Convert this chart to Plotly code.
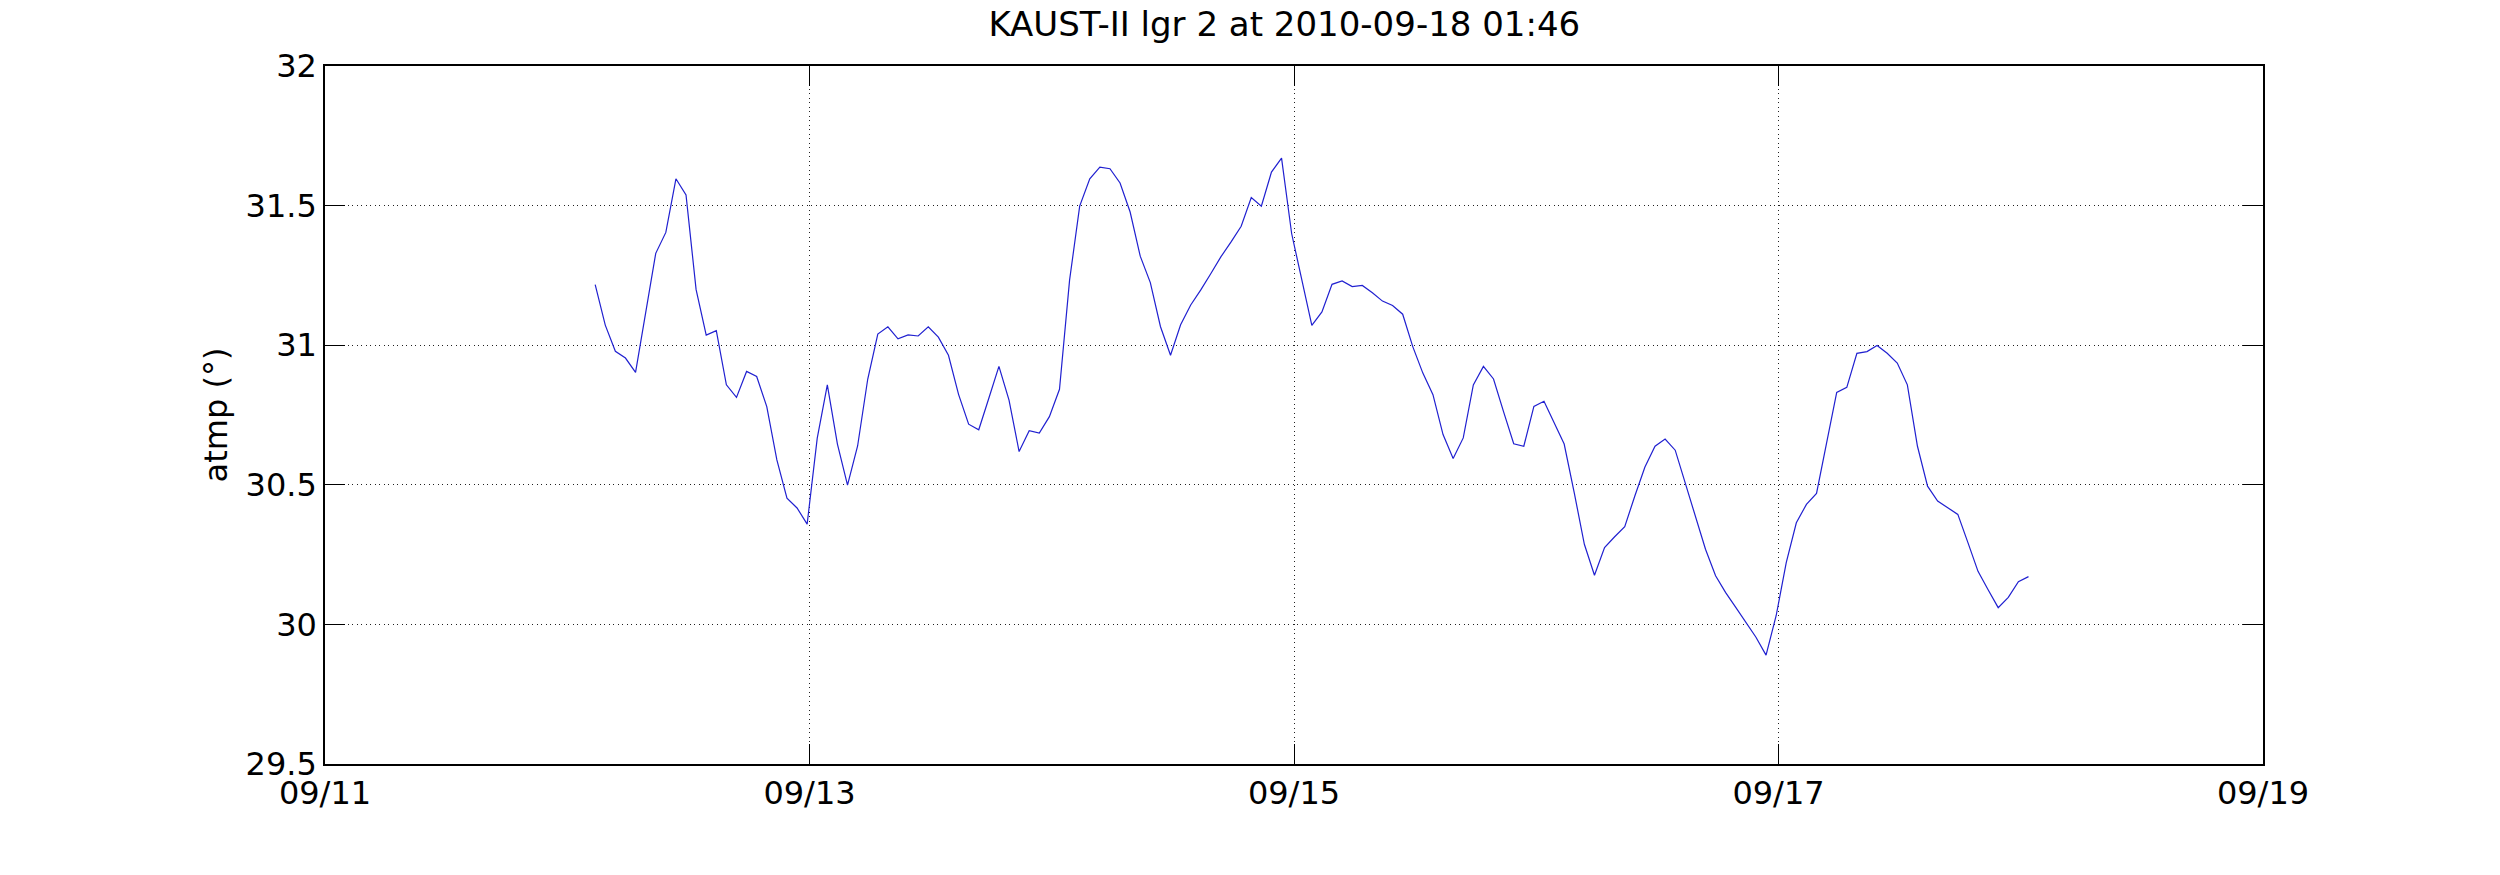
import pandas as pd
import plotly.graph_objects as go

# Hourly air temperature, 2010-09-12 02:46 .. 2010-09-18 00:46
start_time = "2010-09-12 02:46"
atmp = [
    31.217, 31.072, 30.978, 30.954, 30.903, 31.116, 31.329, 31.404, 31.596, 31.538,
    31.199, 31.036, 31.052, 30.858, 30.813, 30.906, 30.888, 30.780, 30.589, 30.452,
    30.417, 30.359, 30.667, 30.858, 30.646, 30.499, 30.639, 30.878, 31.040, 31.066,
    31.023, 31.037, 31.033, 31.066, 31.029, 30.964, 30.824, 30.717, 30.697, 30.810,
    30.924, 30.803, 30.619, 30.694, 30.685, 30.744, 30.842, 31.233, 31.498, 31.596,
    31.638, 31.632, 31.581, 31.477, 31.319, 31.224, 31.067, 30.964, 31.073, 31.144,
    31.198, 31.257, 31.317, 31.370, 31.426, 31.529, 31.498, 31.620, 31.670, 31.400,
    31.233, 31.071, 31.119, 31.218, 31.230, 31.210, 31.214, 31.188, 31.158, 31.142,
    31.111, 30.995, 30.900, 30.823, 30.680, 30.594, 30.668, 30.858, 30.924, 30.879,
    30.761, 30.647, 30.638, 30.781, 30.799, 30.721, 30.646, 30.471, 30.287, 30.176,
    30.275, 30.314, 30.350, 30.460, 30.564, 30.638, 30.664, 30.624, 30.507, 30.388,
    30.269, 30.174, 30.114, 30.061, 30.007, 29.954, 29.890, 30.031, 30.221, 30.364,
    30.430, 30.469, 30.650, 30.831, 30.849, 30.971, 30.977, 30.999, 30.971, 30.936,
    30.858, 30.638, 30.495, 30.442, 30.418, 30.394, 30.293, 30.190, 30.124, 30.060,
    30.097, 30.153, 30.171,
]
times = pd.date_range(start=start_time, periods=len(atmp), freq="h")

x_tick_vals = ["2010-09-11", "2010-09-13", "2010-09-15", "2010-09-17", "2010-09-19"]
x_tick_text = ["09/11", "09/13", "09/15", "09/17", "09/19"]
y_tick_vals = [29.5, 30, 30.5, 31, 31.5, 32]
y_tick_text = ["29.5", "30", "30.5", "31", "31.5", "32"]

title_text = "KAUST-II lgr 2 at 2010-09-18 01:46"
y_label = "atmp (°)"

FONT = "DejaVu Sans"

fig = go.Figure()
fig.add_trace(go.Scatter(
    x=times, y=atmp, mode="lines",
    line=dict(color="#2020d0", width=1.2),
    showlegend=False,
))

axis_common = dict(
    showline=True, linecolor="black", linewidth=1.5, mirror="ticks",
    ticks="inside", ticklen=20, tickwidth=1, tickcolor="black",
    showgrid=True, gridcolor="#222222", gridwidth=1, griddash="1px,3.5px",
    zeroline=False,
    tickfont=dict(family=FONT, size=32, color="black"),
)

fig.update_layout(
    width=2500, height=875,
    paper_bgcolor="white", plot_bgcolor="white",
    margin=dict(l=325, r=237, t=66, b=111, pad=0),
    title=dict(
        text=title_text, x=0.495, xanchor="center", xref="paper",
        y=1 - 24 / 875, yanchor="middle", yref="container",
        font=dict(family=FONT, size=34, color="black"),
    ),
    xaxis=dict(
        type="date", range=[x_tick_vals[0], x_tick_vals[-1]],
        tickmode="array", tickvals=x_tick_vals, ticktext=x_tick_text,
        **axis_common,
    ),
    yaxis=dict(
        range=[29.5, 32],
        tickmode="array", tickvals=y_tick_vals, ticktext=y_tick_text,
        title=dict(text=y_label, standoff=8,
                   font=dict(family=FONT, size=32, color="black")),
        **axis_common,
    ),
)

fig.write_html("out.html", post_script="document.body.style.margin='0';",
               config={"displayModeBar": False})
